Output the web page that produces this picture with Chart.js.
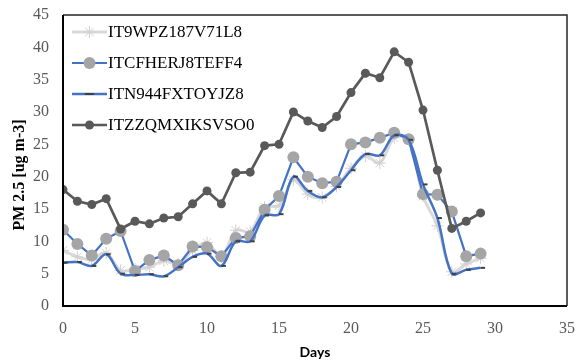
<!DOCTYPE html>
<html>
<head>
<meta charset="utf-8">
<script src="https://cdn.jsdelivr.net/npm/chart.js@4.4.0/dist/chart.umd.min.js"></script>
<style>
html,body{margin:0;padding:0;background:#fff;}
#wrap{width:576px;height:361px;position:relative;}
</style>
</head>
<body>
<div id="wrap"><canvas id="c" width="576" height="361"></canvas></div>
<script>
const days = [0,1,2,3,4,5,6,7,8,9,10,11,12,13,14,15,16,17,18,19,20,21,22,23,24,25,26,27,28,29];
const seriesNames = ["IT9WPZ187V71L8","ITCFHERJ8TEFF4","ITN944FXTOYJZ8","ITZZQMXIKSVSO0"];
const s1 = [8.6,7.6,7.2,8.2,5.5,5.7,6.0,7.0,6.5,8.6,9.8,7.6,11.7,11.5,15.3,15.5,19.5,17.3,16.8,18.5,21.3,23.2,22.1,26.0,25.8,17.0,12.4,5.3,6.5,7.4];
const s2 = [11.8,9.6,7.8,10.4,11.6,5.4,7.1,7.8,6.3,9.2,9.1,7.7,10.5,10.8,14.9,17.0,23.0,20.0,19.0,19.2,25.0,25.3,26.0,26.8,25.8,17.3,17.2,14.6,7.7,8.1];
const s3 = [6.7,6.8,6.2,8.0,5.0,4.8,4.9,4.6,6.0,7.6,8.1,6.2,10.0,10.0,14.0,14.2,20.0,17.8,16.8,18.4,21.0,23.5,23.3,26.4,25.7,18.8,13.6,5.0,5.6,5.9];
const s4 = [18.0,16.2,15.7,16.6,11.9,13.1,12.7,13.6,13.8,15.8,17.8,15.8,20.6,20.7,24.8,25.0,30.0,28.6,27.6,29.3,33.0,36.0,35.3,39.3,37.7,30.3,21.0,12.0,13.1,14.4];
const xTicks = [0,5,10,15,20,25,30,35];
const yTicks = [0,5,10,15,20,25,30,35,40,45];

const toXY = arr => days.map((d,i)=>({x:d,y:arr[i]}));
const BLUE = '#4472c4';

const styles = [
  {borderColor:'#d9d9d9', borderWidth:3, tension:0.35, pointStyle:'star', pointRadius:6, pointBorderColor:'#d0d0d0', pointBackgroundColor:'#d0d0d0', pointBorderWidth:1, order:4},
  {borderColor:BLUE, borderWidth:2.2, tension:0, pointStyle:'circle', pointRadius:6, pointBorderColor:'#a5a5a5', pointBackgroundColor:'#a5a5a5', pointBorderWidth:0, order:3},
  {borderColor:BLUE, borderWidth:2.5, tension:0.35, pointStyle:'dash', pointRadius:4.5, pointBorderColor:'#404040', pointBackgroundColor:'#404040', pointBorderWidth:2, order:2},
  {borderColor:'#595959', borderWidth:2.7, tension:0, pointStyle:'circle', pointRadius:4.5, pointBorderColor:'#595959', pointBackgroundColor:'#595959', pointBorderWidth:0, order:1}
];
const values = [s1,s2,s3,s4];

const datasets = seriesNames.map((n,i)=>Object.assign({label:n, data:toXY(values[i]), fill:false, showLine:true}, styles[i]));

const framePlugin = {
  id:'frame',
  afterDraw(chart){
    const {ctx, chartArea:a} = chart;
    ctx.save();
    ctx.strokeStyle = '#262626';
    ctx.lineWidth = 1.5;
    ctx.beginPath();
    ctx.moveTo(a.left, a.top); ctx.lineTo(a.right, a.top); ctx.lineTo(a.right, a.bottom);
    ctx.stroke();
    ctx.strokeStyle = '#000';
    ctx.lineWidth = 2;
    ctx.beginPath();
    ctx.moveTo(a.left, a.top); ctx.lineTo(a.left, a.bottom); ctx.lineTo(a.right, a.bottom);
    ctx.stroke();
    ctx.translate(20, 175);
    ctx.rotate(-Math.PI/2);
    ctx.font = 'bold 16px "Liberation Serif"';
    ctx.fillStyle = '#000';
    ctx.textAlign = 'center';
    ctx.textBaseline = 'middle';
    ctx.fillText('PM 2.5 [ug m-3]', 0, 0);
    ctx.restore();

    ctx.save();
    chart.data.datasets.forEach((ds,i)=>{
      const y = 32 + 31*i;
      const x0 = 72, x1 = 107, xm = (x0+x1)/2;
      ctx.strokeStyle = ds.borderColor;
      ctx.lineWidth = ds.borderWidth;
      ctx.beginPath(); ctx.moveTo(x0,y); ctx.lineTo(x1,y); ctx.stroke();
      ctx.fillStyle = ds.pointBackgroundColor;
      ctx.strokeStyle = ds.pointBorderColor;
      ctx.lineWidth = ds.pointBorderWidth;
      if (ds.pointStyle==='circle') { ctx.beginPath(); ctx.arc(xm,y,ds.pointRadius,0,Math.PI*2); ctx.fill(); }
      else if (ds.pointStyle==='dash') { ctx.beginPath(); ctx.moveTo(xm-ds.pointRadius,y); ctx.lineTo(xm+ds.pointRadius,y); ctx.stroke(); }
      else { Chart.helpers.drawPoint(ctx,{pointStyle:'star', radius:ds.pointRadius, borderWidth:1, rotation:0}, xm, y); }
      ctx.fillStyle = '#000';
      ctx.font = '17px "Liberation Serif"';
      ctx.textAlign = 'left';
      ctx.textBaseline = 'middle';
      ctx.fillText(ds.label, 108, y+1);
    });
    ctx.restore();
  }
};

new Chart(document.getElementById('c'), {
  type:'line',
  data:{datasets},
  plugins:[framePlugin],
  options:{
    responsive:false,
    animation:false,
    devicePixelRatio:1,
    layout:{padding:{top:15, right:9, left:0, bottom:0}},
    plugins:{legend:{display:false}, tooltip:{enabled:false}},
    scales:{
      x:{
        type:'linear', min:0, max:35,
        afterBuildTicks(s){ s.ticks = xTicks.map(v=>({value:v})); },
        afterFit(s){ s.height = 55; s.paddingLeft = 0; s.paddingRight = 0; },
        grid:{display:false, drawTicks:false},
        border:{display:false},
        ticks:{padding:13, color:'#595959', font:{family:'"Liberation Serif"', size:16}, maxRotation:0},
        title:{display:true, text:'Days', color:'#000', font:{family:'Lato', weight:'bold', size:14}, padding:{top:3,bottom:0}}
      },
      y:{
        type:'linear', min:0, max:45,
        afterBuildTicks(s){ s.ticks = yTicks.map(v=>({value:v})); },
        afterFit(s){ s.width = 63; s.paddingTop = 0; s.paddingBottom = 0; },
        grid:{display:false, drawTicks:false},
        border:{display:false},
        ticks:{padding:14, color:'#595959', font:{family:'"Liberation Serif"', size:16}}
      }
    }
  }
});
</script>
</body>
</html>
